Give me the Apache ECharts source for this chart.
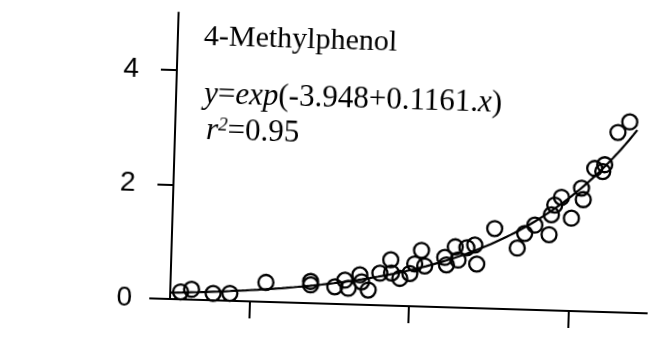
<!DOCTYPE html>
<html>
<head>
<meta charset="utf-8">
<script src="https://cdn.jsdelivr.net/npm/echarts@6/dist/echarts.min.js"></script>
<style>
html,body{margin:0;padding:0;background:#fff;overflow:hidden;}
#chart{width:648px;height:339px;transform:rotate(1.72deg);transform-origin:170px 299px;}
</style>
</head>
<body>
<div id="chart"></div>
<script>
const obsX = [15.66,16.34,17.70,18.75,20.99,23.79,23.80,25.32,25.94,26.16,26.87,26.99,27.42,28.12,28.78,28.85,29.38,30.00,30.29,30.69,30.92,32.16,32.28,32.80,33.00,33.53,34.02,34.18,35.24,36.69,37.13,37.75,38.66,38.77,38.96,39.37,40.03,40.61,40.74,41.40,42.02,41.91,42.79,43.51];
const obsY = [0.13,0.18,0.12,0.13,0.34,0.38,0.32,0.30,0.42,0.28,0.52,0.40,0.26,0.56,0.80,0.57,0.48,0.57,0.74,0.98,0.71,0.87,0.74,1.06,0.83,1.05,1.10,0.77,1.40,1.07,1.33,1.48,1.32,1.67,1.84,1.98,1.62,2.15,1.95,2.50,2.57,2.45,3.14,3.33];
// Fitted model shown on the chart: y = exp(a + b*x)
const fitA = -3.948;
const fitB = 0.1161;
const fitRange = [15, 44];
const yTicks = [0, 2, 4];
const xTicks = [20, 30, 40];
const titleText = '4-Methylphenol';
const r2Text = '0.95';

const scatterData = obsX.map((x, i) => [x, obsY[i]]);
const fitData = [];
for (let x = fitRange[0]; x <= fitRange[1] + 1e-9; x += 0.25) {
  fitData.push([x, Math.exp(fitA + fitB * x)]);
}

const chart = echarts.init(document.getElementById('chart'), null, {renderer: 'canvas'});
chart.setOption({
  animation: false,
  backgroundColor: '#fff',
  grid: {left: 150, right: 0, top: 12.5, bottom: 40, containLabel: false},
  xAxis: {
    type: 'value', min: 13.75, max: 45,
    axisLine: {show: true, onZero: false, lineStyle: {color: '#000', width: 2}},
    axisTick: {show: true, customValues: xTicks, length: 17, lineStyle: {color: '#000', width: 2}},
    axisLabel: {show: false},
    splitLine: {show: false}
  },
  yAxis: {
    type: 'value', min: 0, max: 5, offset: -20,
    axisLine: {show: true, onZero: false, lineStyle: {color: '#000', width: 2}},
    axisTick: {show: true, customValues: yTicks, length: 16, lineStyle: {color: '#000', width: 2}},
    axisLabel: {show: true, customValues: yTicks, fontSize: 28, color: '#000', margin: 38, fontFamily: 'Liberation Sans'},
    splitLine: {show: false}
  },
  series: [
    {
      type: 'line', data: fitData, showSymbol: false, symbol: 'none', smooth: false,
      lineStyle: {color: '#000', width: 2.2}, z: 3
    },
    {
      type: 'scatter', data: scatterData, symbol: 'circle', symbolSize: 15,
      itemStyle: {color: 'rgba(0,0,0,0)', borderColor: '#000', borderWidth: 2.3, opacity: 1}, z: 2
    }
  ],
  graphic: [
    {type: 'text', left: 196, top: 21, style: {text: titleText, font: '30px "Liberation Serif"', fill: '#000'}},
    {type: 'text', left: 198, top: 78, style: {
      text: '{i|y}{n|=}{i|exp}{n|(-3.948+0.1161.}{i|x}{n|)}',
      rich: {
        i: {fontFamily: 'Liberation Serif', fontStyle: 'italic', fontSize: 31, color: '#000'},
        n: {fontFamily: 'Liberation Serif', fontSize: 31, color: '#000'}
      }
    }},
    {type: 'text', left: 201, top: 114, style: {
      text: '{i|r}{s|2}{n|=' + r2Text + '}',
      rich: {
        i: {fontFamily: 'Liberation Serif', fontStyle: 'italic', fontSize: 31, color: '#000', verticalAlign: 'bottom'},
        s: {fontFamily: 'Liberation Serif', fontStyle: 'italic', fontSize: 19, color: '#000', verticalAlign: 'top'},
        n: {fontFamily: 'Liberation Serif', fontSize: 31, color: '#000', verticalAlign: 'bottom'}
      }
    }}
  ]
});
</script>
</body>
</html>
